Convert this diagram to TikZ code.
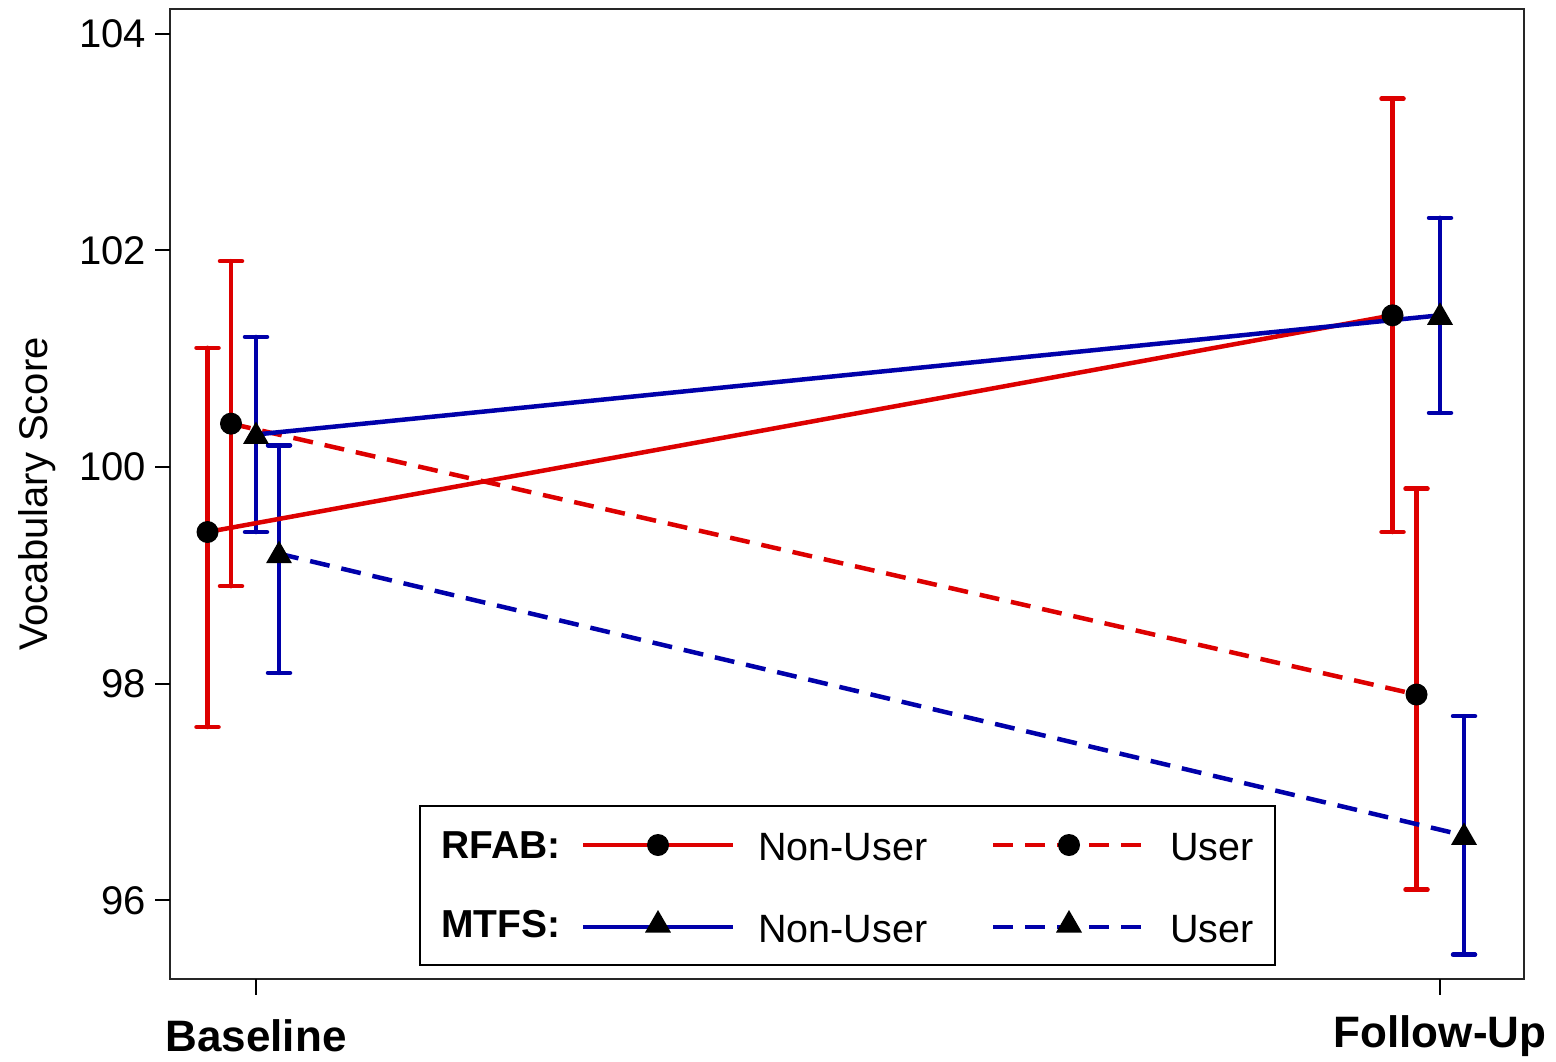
\documentclass[tikz,border=0pt]{standalone}
\usepackage{fontspec}
\setmainfont{Liberation Sans}
\usetikzlibrary{shapes.geometric}
\definecolor{pred}{RGB}{221,0,0}
\definecolor{pblue}{RGB}{0,0,170}
\newcommand\vy[1]{467-(#1-100)*108.35}
\newcommand\ebar[4]{%
  \draw[ebarline,#4] (#1,{\vy{#2}}) -- (#1,{\vy{#3}});
  \draw[ebarline,#4] ({#1-11},{\vy{#2}}) -- ({#1+11},{\vy{#2}});
  \draw[ebarline,#4] ({#1-11},{\vy{#3}}) -- ({#1+11},{\vy{#3}});}
\tikzset{
  ebarline/.style={line width=4.5pt,line cap=round},
  series/.style={line width=4.5pt},
  dashser/.style={line width=4.5pt,dash pattern=on 20pt off 12pt},
  dotmark/.style={circle,fill=black,inner sep=0pt,minimum size=22pt},
  trimark/.style={regular polygon,regular polygon sides=3,fill=black,inner sep=0pt,minimum size=30pt},
  ticklab/.style={font=\fontsize{40}{44}\selectfont,anchor=east,inner sep=0pt},
  axlab/.style={font=\fontsize{44}{48}\selectfont\bfseries,inner sep=0pt},
  legtxt/.style={font=\fontsize{39.5}{43}\selectfont,anchor=west,inner sep=0pt},
  legbold/.style={font=\fontsize{39}{43}\selectfont\bfseries,anchor=west,inner sep=0pt},
  frameline/.style={line width=2.5pt,draw=black!85}
}
\begin{document}
\begin{tikzpicture}[x=1pt,y=-1pt]
\useasboundingbox (0,0) rectangle (1556,1062);
\fill[white] (0,0) rectangle (1556,1062);
% frame
\draw[frameline] (170,9) rectangle (1524,979);
% y ticks
\foreach \v in {96,98,100,102,104}{
  \draw[line width=2pt] (155,{\vy{\v}}) -- (170,{\vy{\v}});
  \node[ticklab] at (146,{\vy{\v}}) {\v};
}
% x ticks
\draw[line width=2pt] (256,979) -- (256,995);
\draw[line width=2pt] (1440,979) -- (1440,995);
\node[axlab] (xb) at (256,1036) {Baseline};
\node[axlab] (xf) at (1440,1036) {Follow-Up};
\node[font=\fontsize{40}{44}\selectfont,rotate=90,inner sep=0pt] (ylab) at (37,494) {Vocabulary Score};
% error bars
\ebar{207.5}{97.6}{101.1}{pred}
\ebar{231}{98.9}{101.9}{pred}
\ebar{256}{99.4}{101.2}{pblue}
\ebar{279}{98.1}{100.2}{pblue}
\ebar{1392.5}{99.4}{103.4}{pred}
\ebar{1416.5}{96.1}{99.8}{pred}
\ebar{1440}{100.5}{102.3}{pblue}
\ebar{1464}{95.5}{97.7}{pblue}
% data points
\coordinate (rnb) at (207.5,{\vy{99.4}});
\coordinate (rnf) at (1392.5,{\vy{101.4}});
\coordinate (rub) at (231,{\vy{100.4}});
\coordinate (ruf) at (1416.5,{\vy{97.9}});
\coordinate (mnb) at (256,{\vy{100.3}});
\coordinate (mnf) at (1440,{\vy{101.4}});
\coordinate (mub) at (279,{\vy{99.2}});
\coordinate (muf) at (1464,{\vy{96.6}});
% series lines
\draw[series,pred] (rnb) -- (rnf);
\draw[dashser,pred] (rub) -- (ruf);
\draw[series,pblue] (mnb) -- (mnf);
\draw[dashser,pblue] (mub) -- (muf);
% markers
\node[dotmark] (rnbm) at (rnb) {};
\node[dotmark] (rnfm) at (rnf) {};
\node[dotmark] (rubm) at (rub) {};
\node[dotmark] (rufm) at (ruf) {};
\node[trimark] (mnbm) at ([yshift=-2pt]mnb) {};
\node[trimark] (mnfm) at ([yshift=-2pt]mnf) {};
\node[trimark] (mubm) at ([yshift=-2pt]mub) {};
\node[trimark] (mufm) at ([yshift=-2pt]muf) {};
% legend
\draw[line width=2pt,fill=white] (420,806) rectangle (1275,965);
\node[legbold] (lr) at (441,845) {RFAB:};
\node[legbold] (lm) at (441,924) {MTFS:};
\coordinate (l1a) at (583,845); \coordinate (l1b) at (733,845);
\coordinate (l2a) at (993,845); \coordinate (l2b) at (1145,845);
\coordinate (l3a) at (583,927); \coordinate (l3b) at (733,927);
\coordinate (l4a) at (993,927); \coordinate (l4b) at (1145,927);
\draw[series,pred] (l1a) -- (l1b);
\draw[dashser,pred] (l2a) -- (l2b);
\draw[series,pblue] (l3a) -- (l3b);
\draw[dashser,pblue] (l4a) -- (l4b);
\node[dotmark] (lm1) at (658,845) {};
\node[dotmark] (lm2) at (1069,845) {};
\node[trimark] (lm3) at (658,925) {};
\node[trimark] (lm4) at (1069,925) {};
\node[legtxt] (t1) at (758,847) {Non-User};
\node[legtxt] (t2) at (1170,847) {User};
\node[legtxt] (t3) at (758,929) {Non-User};
\node[legtxt] (t4) at (1170,929) {User};
\end{tikzpicture}
\end{document}
